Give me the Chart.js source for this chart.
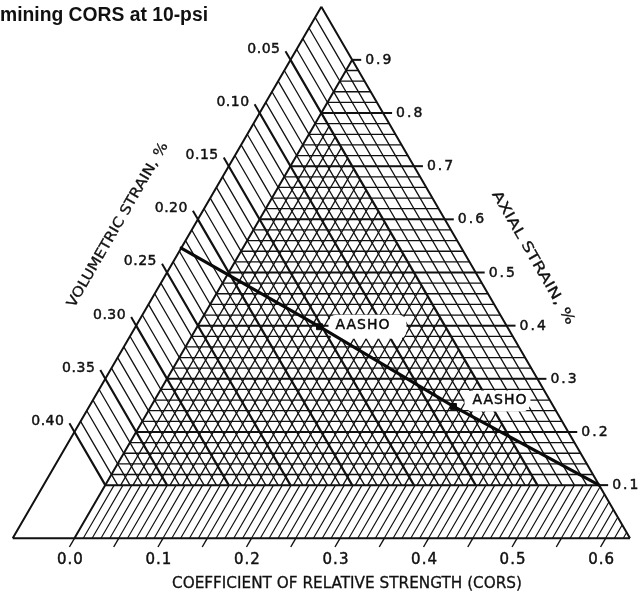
<!DOCTYPE html>
<html>
<head>
<meta charset="utf-8">
<title>Nomograph for determining CORS at 10-psi</title>
<script src="https://cdn.jsdelivr.net/npm/chart.js@4.4.1/dist/chart.umd.min.js"></script>
<style>
  html, body { margin: 0; padding: 0; background: #fff; }
  #wrap { width: 638px; height: 598px; position: relative; }
</style>
</head>
<body>
<div id="wrap"><canvas id="nomo" width="638" height="598"></canvas></div>
<script>
// ---- Scale labels ----
const volumetricLabels = [0.05, 0.10, 0.15, 0.20, 0.25, 0.30, 0.35, 0.40];
const axialLabels = [0.1, 0.2, 0.3, 0.4, 0.5, 0.6, 0.7, 0.8, 0.9];
const corsLabels = [0.0, 0.1, 0.2, 0.3, 0.4, 0.5, 0.6];
const corsTickMarks = [0.0, 0.05, 0.1, 0.15, 0.2, 0.25, 0.3, 0.35, 0.4, 0.45, 0.5, 0.55, 0.6];

// ---- Trend line through the AASHO results (volumetric strain %, axial strain %) ----
const lineVolumetric = [0.227, 0.152, 0.081, 0.0];
const lineAxial = [0.546, 0.398, 0.248, 0.1];

// ---- AASHO points ----
const aashoNames = ['AASHO', 'AASHO'];
const aashoVolumetric = [0.152, 0.081];
const aashoAxial = [0.398, 0.248];

// ---- Ternary geometry ----
// Each point has three parts: axial (apex), volumetric (left corner, 2 x strain)
// and the right-corner part, which carries the CORS scale.
const CORS_ORIGIN = 0.1;     // right-corner share where CORS = 0
const CORS_SPAN = 1.434;     // right-corner share per unit of CORS
const MESH_SHIFT = 0.005;    // drafting offset of the mesh diagonals
const toData = (bR, a) => ({ x: bR + a / 2, y: a });
const fromStrains = (v, a) => ({ x: 1 - a / 2 - 2 * v, y: a });
const GAP = { x: null, y: null };

function segments(list) {
  const out = [];
  list.forEach(([p, q]) => { out.push(p, q, GAP); });
  return out;
}

// Volumetric-strain lines (parallel to the right side), every 0.01 %
const volThin = [], volThick = [];
for (let k = 1; k <= 40; k++) {
  const bL = k / 50;
  const seg = [toData(0, 1 - bL), toData(0.9 - bL, 0.1)];
  (k % 5 === 0 ? volThick : volThin).push(seg);
}
// Axial-strain lines (horizontal), every 0.02 %
const axThin = [], axThick = [];
for (let j = 5; j < 45; j++) {
  const a = j / 50;
  const seg = [toData(0.1, a), toData(1 - a, a)];
  (j % 5 === 0 ? axThick : axThin).push(seg);
}
// Mesh diagonals parallel to the left side
const meshLines = [];
for (let m = 6; m < 40; m++) {
  const r = m / 50 + MESH_SHIFT;
  if (0.9 - r <= 0.1) break;
  meshLines.push([toData(r, 0.1), toData(r, 0.9 - r)]);
}
// CORS hatch in the bottom band, every 0.01
const corsHatch = [];
for (let i = 1; i <= 63; i++) {
  const r = CORS_ORIGIN + (i / 100) * CORS_SPAN;
  if (r >= 1) break;
  corsHatch.push([toData(r, 0), toData(r, Math.min(0.1, 1 - r))]);
}
// Outline and the CORS = 0 boundary
const outline = [
  [toData(0, 0), toData(1, 0)],
  [toData(1, 0), toData(0, 1)],
  [toData(0, 1), toData(0, 0)],
  [toData(CORS_ORIGIN, 0), toData(CORS_ORIGIN, 0.9)]
];

const INK = '#111111';
const THIN = 1.3;
const gridSet = (label, segs, width, order) => ({
  label, data: segments(segs), showLine: true, spanGaps: false,
  borderColor: INK, borderWidth: width, pointRadius: 0, order,
  borderCapStyle: 'butt'
});

const trendIndex = 0;
const datasets = [
  {
    label: 'trend',
    data: lineVolumetric.map((v, i) => fromStrains(v, lineAxial[i])),
    showLine: true, borderColor: '#0a0a0a', borderWidth: 3.2,
    pointRadius: 0, order: 1, borderCapStyle: 'round'
  },
  {
    label: 'aasho',
    data: aashoVolumetric.map((v, i) => fromStrains(v, aashoAxial[i])),
    showLine: false, pointStyle: 'rect', pointRadius: 4.2,
    backgroundColor: '#0a0a0a', borderColor: '#0a0a0a', order: 0
  },
  gridSet('outline', outline, 2, 2),
  gridSet('volThick', volThick, 2.2, 3),
  gridSet('axThick', axThick, 2, 4),
  gridSet('volThin', volThin, THIN, 5),
  gridSet('axThin', axThin, THIN, 6),
  gridSet('meshLines', meshLines, THIN, 7),
  gridSet('corsHatch', corsHatch, 1.15, 8)
];

// ---- Text helpers ----
function drawText(ctx, text, x, y, o) {
  ctx.save();
  ctx.font = o.font;
  ctx.fillStyle = o.color || '#111';
  ctx.strokeStyle = o.color || '#111';
  ctx.lineWidth = o.weight || 0;
  ctx.textBaseline = o.baseline || 'middle';
  ctx.textAlign = 'left';
  if ('letterSpacing' in ctx) ctx.letterSpacing = (o.spacing || 0) + 'px';
  ctx.translate(x, y);
  if (o.rotate) ctx.rotate(o.rotate);
  const w = ctx.measureText(text).width;
  if (o.width) ctx.scale(o.width / w, 1);
  const align = o.align || 'center';
  const dx = align === 'center' ? -w / 2 : (align === 'right' ? -w : 0);
  ctx.fillText(text, dx, 0);
  if (o.weight) ctx.strokeText(text, dx, 0);
  ctx.restore();
}

function roundRect(ctx, x, y, w, h, r) {
  ctx.beginPath();
  ctx.moveTo(x + r, y);
  ctx.lineTo(x + w - r, y);
  ctx.quadraticCurveTo(x + w, y, x + w, y + r);
  ctx.lineTo(x + w, y + h - r);
  ctx.quadraticCurveTo(x + w, y + h, x + w - r, y + h);
  ctx.lineTo(x + r, y + h);
  ctx.quadraticCurveTo(x, y + h, x, y + h - r);
  ctx.lineTo(x, y + r);
  ctx.quadraticCurveTo(x, y, x + r, y);
  ctx.closePath();
}

// Label box placement beside each AASHO point (pixels)
const aashoBox = [
  { dx: 9, dy: -12, w: 78, h: 24, tx: 16, ty: -1 },
  { dx: 11, dy: -16, w: 66, h: 21, tx: 19, ty: -6 }
];

const NUM_FONT = '"DejaVu Sans", sans-serif';
const TEXT_WEIGHT = 0.45;

const nomogramText = {
  id: 'nomogramText',
  beforeDatasetDraw(chart, args) {
    if (args.index !== trendIndex) return;
    const ctx = chart.ctx;
    const xs = chart.scales.x, ys = chart.scales.y;
    aashoNames.forEach((name, i) => {
      const d = fromStrains(aashoVolumetric[i], aashoAxial[i]);
      const px = xs.getPixelForValue(d.x), py = ys.getPixelForValue(d.y);
      const b = aashoBox[i];
      ctx.save();
      ctx.fillStyle = '#fff';
      roundRect(ctx, px + b.dx, py + b.dy, b.w, b.h, 9);
      ctx.fill();
      ctx.restore();
      drawText(ctx, name, px + b.tx, py + b.ty,
        { font: '14px ' + NUM_FONT, align: 'left', spacing: 1, color: '#0a0a0a', weight: TEXT_WEIGHT });
    });
  },
  afterDraw(chart) {
    const ctx = chart.ctx;
    const xs = chart.scales.x, ys = chart.scales.y;
    const P = (bR, a) => [xs.getPixelForValue(bR + a / 2), ys.getPixelForValue(a)];
    ctx.save();
    ctx.strokeStyle = INK;
    ctx.lineWidth = 2;

    // Axial strain scale on the right side
    axialLabels.forEach(a => {
      const [x, y] = P(1 - a, a);
      ctx.beginPath(); ctx.moveTo(x, y); ctx.lineTo(x + 9, y); ctx.stroke();
      drawText(ctx, a.toFixed(1), x + 13, y + 0.5,
        { font: '14px ' + NUM_FONT, align: 'left', spacing: 2, weight: TEXT_WEIGHT });
    });

    // Volumetric strain scale on the left side
    volumetricLabels.forEach(v => {
      const bL = 2 * v;
      const [x, y] = P(0, 1 - bL);
      const ex = x - 5, ey = y - 8.7;
      ctx.beginPath(); ctx.moveTo(x, y); ctx.lineTo(ex, ey); ctx.stroke();
      drawText(ctx, v.toFixed(2), ex - 5, ey - 2,
        { font: '14px ' + NUM_FONT, align: 'right', spacing: 0.5, weight: TEXT_WEIGHT });
    });

    // CORS scale along the base
    ctx.lineWidth = 1.4;
    corsTickMarks.forEach(c => {
      const [x, y] = P(CORS_ORIGIN + c * CORS_SPAN, 0);
      ctx.beginPath(); ctx.moveTo(x, y); ctx.lineTo(x - 5, y + 8.7); ctx.stroke();
    });
    corsLabels.forEach(c => {
      const [x] = P(CORS_ORIGIN + c * CORS_SPAN, 0);
      drawText(ctx, c.toFixed(1), x - 4, 560,
        { font: '15px ' + NUM_FONT, align: 'center', spacing: 1, weight: TEXT_WEIGHT });
    });
    ctx.restore();

    // Axis titles
    drawText(ctx, 'COEFFICIENT OF RELATIVE STRENGTH (CORS)', 347, 584.5,
      { font: '15px ' + NUM_FONT, width: 350, weight: 0.3 });
    drawText(ctx, 'VOLUMETRIC STRAIN, %', 118, 225,
      { font: '14px ' + NUM_FONT, width: 188, rotate: -Math.PI / 3, weight: 0.3 });
    drawText(ctx, 'AXIAL STRAIN, %', 533, 258,
      { font: '14px ' + NUM_FONT, width: 152, rotate: Math.PI / 3, weight: 0.3 });

    // Title
    drawText(ctx, 'mining CORS at 10-psi', 0, 21,
      { font: 'bold 20px "Liberation Sans", Arial, sans-serif', width: 208,
        align: 'left', baseline: 'alphabetic', color: '#111' });
  }
};

// Pixel frame of the triangle: base from x=12.7 to 630, base at y=538.3, apex at y=6.7
const X0 = 12.7, W = 617.3, BASE = 538.3, H = 531.6, CW = 638, CH = 598;

new Chart(document.getElementById('nomo'), {
  type: 'scatter',
  data: { datasets },
  options: {
    responsive: false,
    animation: false,
    events: [],
    devicePixelRatio: 1,
    layout: { padding: 0, autoPadding: false },
    plugins: { legend: { display: false }, tooltip: { enabled: false } },
    scales: {
      x: { type: 'linear', display: false, min: -X0 / W, max: (CW - X0) / W },
      y: { type: 'linear', display: false, min: -(CH - BASE) / H, max: BASE / H }
    }
  },
  plugins: [nomogramText]
});
</script>
</body>
</html>
